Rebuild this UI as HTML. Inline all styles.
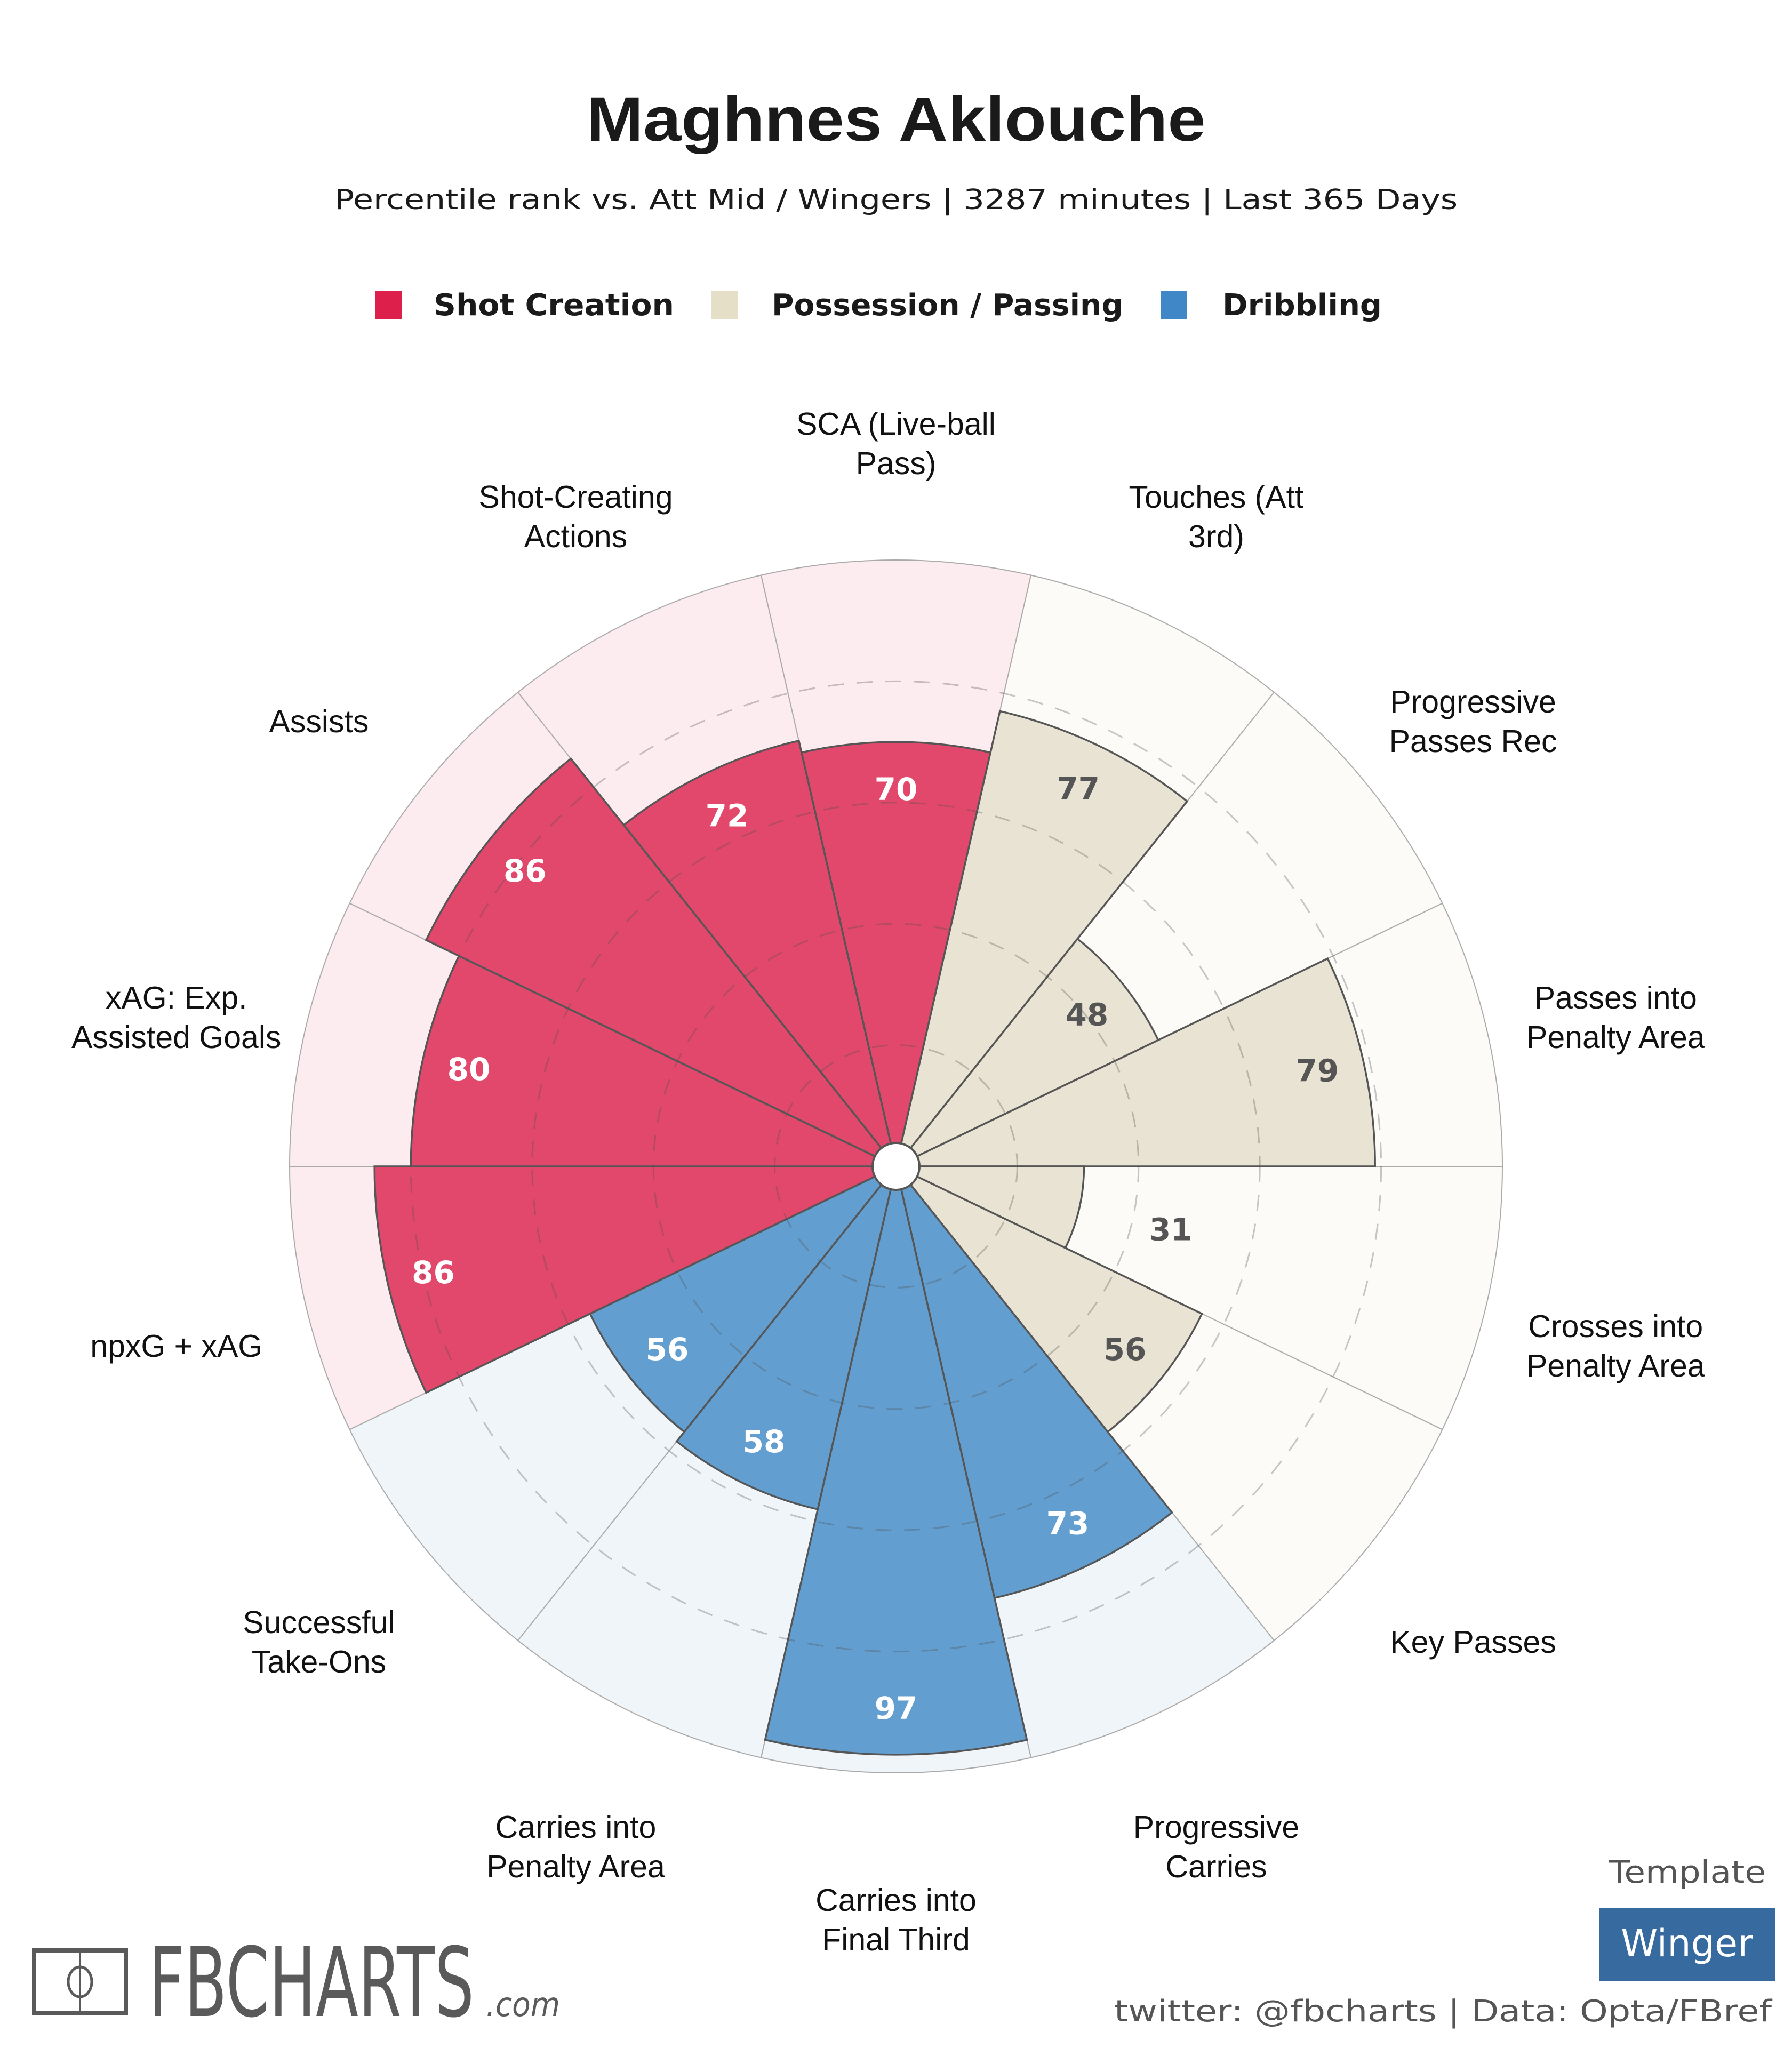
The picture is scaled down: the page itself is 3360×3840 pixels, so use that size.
<!DOCTYPE html>
<html><head><meta charset="utf-8">
<style>
html,body{margin:0;padding:0;background:#fff;}
svg{display:block;}
</style></head>
<body>
<svg id="chart" width="3360" height="3840" viewBox="0 0 3360 3840" xmlns="http://www.w3.org/2000/svg">
  <text x="1680" y="264" text-anchor="middle" font-family="Liberation Sans, sans-serif" font-weight="bold" font-size="118" fill="#1a1a1a" textLength="1161" lengthAdjust="spacingAndGlyphs">Maghnes Aklouche</text>
  <text x="1680" y="392" text-anchor="middle" font-family="DejaVu Sans, sans-serif" font-size="52" fill="#1a1a1a" textLength="2106" lengthAdjust="spacingAndGlyphs">Percentile rank vs. Att Mid / Wingers | 3287 minutes | Last 365 Days</text>
  <g>
    <rect x="703" y="546" width="50" height="52" fill="#dc1f4b"/>
    <text x="813" y="591" font-family="DejaVu Sans, sans-serif" font-weight="bold" font-size="56" fill="#1a1a1a" textLength="451" lengthAdjust="spacingAndGlyphs">Shot Creation</text>
    <rect x="1334" y="546" width="50" height="52" fill="#e6dfc8"/>
    <text x="1447" y="591" font-family="DejaVu Sans, sans-serif" font-weight="bold" font-size="56" fill="#1a1a1a" textLength="659" lengthAdjust="spacingAndGlyphs">Possession / Passing</text>
    <rect x="2176" y="546" width="50" height="52" fill="#3f87c7"/>
    <text x="2292" y="591" font-family="DejaVu Sans, sans-serif" font-weight="bold" font-size="56" fill="#1a1a1a" textLength="299" lengthAdjust="spacingAndGlyphs">Dribbling</text>
  </g>
  <g id="pizza"></g>
  <g>
    <rect x="64" y="3657" width="172" height="117" fill="none" stroke="#5a5a5a" stroke-width="8"/>
    <line x1="150" y1="3657" x2="150" y2="3774" stroke="#5a5a5a" stroke-width="4"/>
    <ellipse cx="150" cy="3716" rx="22" ry="28" fill="none" stroke="#5a5a5a" stroke-width="5"/>
    <text x="279" y="3780" font-family="DejaVu Sans, sans-serif" font-size="180" fill="#5a5a5a" textLength="610" lengthAdjust="spacingAndGlyphs">FBCHARTS</text>
    <text x="911" y="3780" font-family="DejaVu Sans, sans-serif" font-style="italic" font-size="62" fill="#5a5a5a" textLength="139" lengthAdjust="spacingAndGlyphs">.com</text>
  </g>
  <text x="3164" y="3530" text-anchor="middle" font-family="DejaVu Sans, sans-serif" font-size="58" fill="#555" textLength="294" lengthAdjust="spacingAndGlyphs">Template</text>
  <rect x="2998" y="3578" width="330" height="137" fill="#376a9f"/>
  <text x="3163" y="3668" text-anchor="middle" font-family="DejaVu Sans, sans-serif" font-size="70" fill="#fff">Winger</text>
  <text x="2089" y="3790" font-family="DejaVu Sans, sans-serif" font-size="56" fill="#555" textLength="1233" lengthAdjust="spacingAndGlyphs">twitter: @fbcharts | Data: Opta/FBref</text>
</svg>
<script>
const categories = [
  ["SCA (Live-ball","Pass)"],
  ["Touches (Att","3rd)"],
  ["Progressive","Passes Rec"],
  ["Passes into","Penalty Area"],
  ["Crosses into","Penalty Area"],
  ["Key Passes"],
  ["Progressive","Carries"],
  ["Carries into","Final Third"],
  ["Carries into","Penalty Area"],
  ["Successful","Take-Ons"],
  ["npxG + xAG"],
  ["xAG: Exp.","Assisted Goals"],
  ["Assists"],
  ["Shot-Creating","Actions"]
];
const values = [70, 77, 48, 79, 31, 56, 73, 97, 58, 56, 86, 80, 86, 72];
const groups = ["shot","poss","poss","poss","poss","poss","drib","drib","drib","drib","shot","shot","shot","shot"];
const gridTicks = [20, 40, 60, 80];

const NS = "http://www.w3.org/2000/svg";
const g = document.getElementById("pizza");
const cx = 1680, cy = 2187, R = 1137;
const n = values.length, step = 360 / n;
const bgColor = {shot:"#fcebef", poss:"#fcfbf8", drib:"#eff5f9"};
const barColor = {shot:"#e2486b", poss:"#e8e3d2", drib:"#629ecf"};
const txtColor = {shot:"#ffffff", poss:"#555555", drib:"#ffffff"};
function rScale(v){ return v / 100 * R; }
function pt(r, deg){ const a = deg*Math.PI/180; return [cx + r*Math.cos(a), cy - r*Math.sin(a)]; }
function wedge(r, a0, a1){
  const p0 = pt(r, a0), p1 = pt(r, a1);
  return `M${cx},${cy} L${p0[0]},${p0[1]} A${r},${r} 0 0 1 ${p1[0]},${p1[1]} Z`;
}
function mk(tag, attrs){ const e = document.createElementNS(NS, tag); for (const k in attrs) e.setAttribute(k, attrs[k]); g.appendChild(e); return e; }

for (let i = 0; i < n; i++) {
  const c = 90 - i*step;
  const e = mk("path", {d: wedge(R, c + step/2, c - step/2), fill: bgColor[groups[i]], stroke: "#aaaaaa", "stroke-width": 2});
  
  
}
for (let i = 0; i < n; i++) {
  const c = 90 - i*step;
  const e = mk("path", {d: wedge(rScale(values[i]), c + step/2, c - step/2), fill: barColor[groups[i]], stroke: "#555555", "stroke-width": 3.5});
  
  
}
for (const t of gridTicks) {
  const e = mk("circle", {cx: cx, cy: cy, r: rScale(t), fill: "none", stroke: "rgba(80,80,80,0.32)", "stroke-width": 3, "stroke-dasharray": "30 24"});
  
  
}
const hole = mk("circle", {cx: cx, cy: cy, r: 44, fill: "#fff", stroke: "#555", "stroke-width": 4});


for (let i = 0; i < n; i++) {
  const c = 90 - i*step;
  const v = values[i];
  const r = v < 40 ? rScale(v) + 176 : rScale(v) - 88;
  const p = pt(r, c);
  const e = mk("text", {x: p[0], y: p[1] + 21, "text-anchor": "middle", "font-family": "DejaVu Sans, sans-serif", "font-weight": "bold", "font-size": 58, fill: v < 40 ? "#555555" : txtColor[groups[i]]});
  e.textContent = v;
  
  
}
for (let i = 0; i < n; i++) {
  const c = 90 - i*step;
  const p = pt(1384, c);
  const lines = categories[i];
  const lh = 74;
  const e = mk("text", {"text-anchor": "middle", "font-family": "Liberation Sans, Arial, sans-serif", "font-size": 59, fill: "#111"});
  lines.forEach((ln, k) => {
    const ts = document.createElementNS(NS, "tspan");
    ts.setAttribute("x", p[0]);
    ts.setAttribute("y", p[1] + 28 + 21 + (k - (lines.length-1)/2) * lh);
    ts.textContent = ln;
    e.appendChild(ts);
  });
  
  
}
</script>
</body></html>
